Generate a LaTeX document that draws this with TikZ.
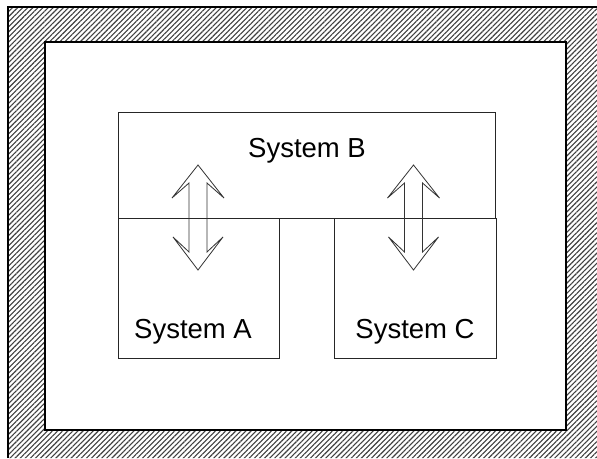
\documentclass[tikz,border=0pt]{standalone}
\usepackage{fontspec}
\setmainfont{Liberation Sans}
\usetikzlibrary{patterns.meta}
\tikzset{
  sysbox/.style={draw=black!85, line width=0.9pt, inner sep=0pt, fill=none},
  lbl/.style={font=\fontsize{27.5}{32}\selectfont, inner sep=0pt, anchor=base},
  dblarrow/.style={draw=black!80, line width=0.8pt, line join=miter},
  frameline/.style={draw=black, line width=1.3pt}
}
\begin{document}
\begin{tikzpicture}[x=1pt,y=-1pt]
\useasboundingbox (0,0) rectangle (597,458);
\fill[white] (0,0) rectangle (597,458);
% hatched frame
\fill[pattern={Lines[angle=45,distance=3.6pt,line width=1.1pt]}, pattern color=black!75, even odd rule]
  (8,7) rectangle (597,458) (45,42) rectangle (566,430);
\draw[frameline] (8,458) -- (8,7) -- (597,7);
\draw[frameline] (45,42) rectangle (566,430);
% boxes
\node[sysbox, minimum width=377pt, minimum height=106pt] (B) at (306.5,165) {};
\node[sysbox, minimum width=161pt, minimum height=140pt] (A) at (198.5,288) {};
\node[sysbox, minimum width=162pt, minimum height=140pt] (C) at (415,288) {};
\node[lbl] (tB) at (307,157) {System B};
\node[lbl] (tA) at (193,338) {System A};
\node[lbl] (tC) at (415,338) {System C};
% double arrows
\foreach \cx/\nm in {198/l, 413.5/r}{
  \coordinate (\nm top) at (\cx,165);
  \coordinate (\nm bot) at (\cx,270);
  \draw[dblarrow] ([xshift=-9pt]\nm top |- 0,183) -- ++(-17,15) -- (\nm top) -- ++(26,33) -- ++(-17,-15)
    -- ++(0,69) -- ++(16,-15) -- (\nm bot) -- ++(-25,-33) -- ++(16,15) -- cycle;
}
\end{tikzpicture}
\end{document}
